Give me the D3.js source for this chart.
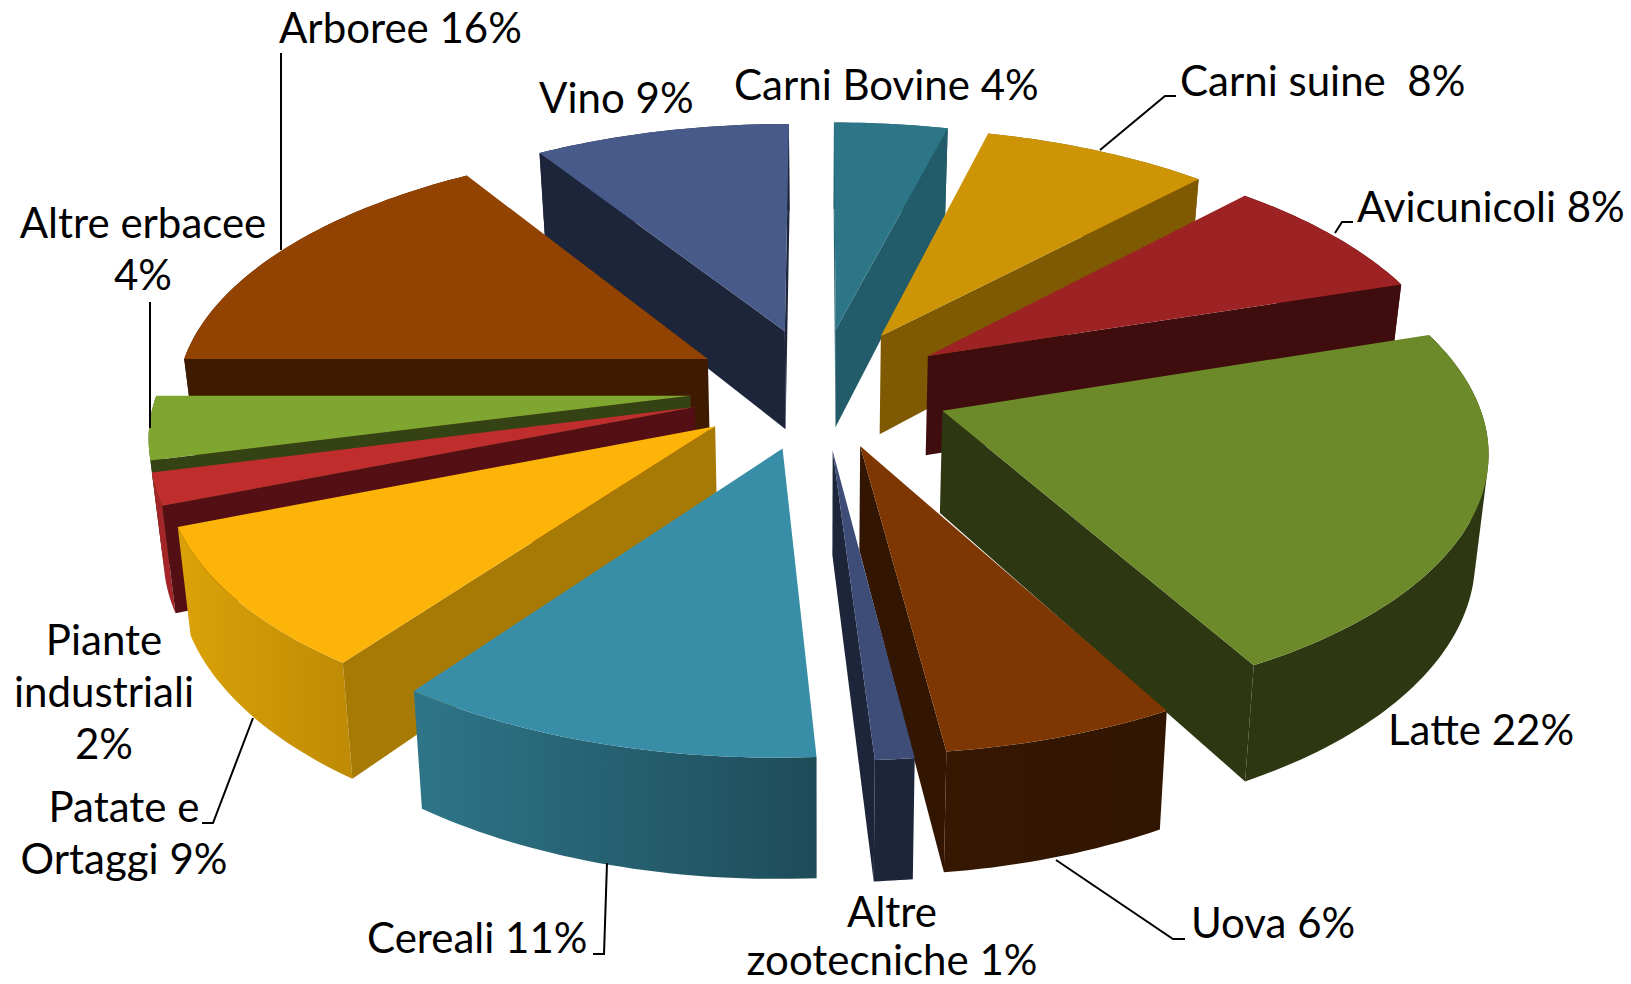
<!DOCTYPE html>
<html><head><meta charset="utf-8">
<style>html,body{margin:0;padding:0;background:#fff;overflow:hidden}svg{display:block}text{font-family:Lato,"Open Sans",sans-serif;fill:#000}</style>
<script src="https://cdn.jsdelivr.net/npm/d3@7/dist/d3.min.js"></script>
</head><body><svg id="c" width="1631" height="984"></svg>
<script>
// data
const categories=["Carni Bovine","Carni suine","Avicunicoli","Latte","Uova","Altre zootecniche","Cereali","Patate e Ortaggi","Piante industriali","Altre erbacee","Arboree","Vino"];
const shares=[4,8,8,22,6,1,11,9,2,4,16,9];
// layout and styles, one per slice
const explode=[130,130,130,130,126,130,130,130,130,130,130,130];
const topColors=["#2c7687","#cd9505","#9c2224","#6c8a29","#7e3702","#3e4d78","#388ea7","#fdb408","#bf2d2d","#80a632","#924201","#475a8a"];
const cutColors=["#225c6a","#7f5a02","#400d0e","#2d3711","#331602","#1c2539","#2a6b7d","#a67a04","#530f13","#344214","#3e1b00","#1c2539"];
const wallFrom=["#225c6a","#7f5a02","#400d0e","#2d3711","#361702","#1c2539","#2e7588","#dba208","#a32528","#344214","#3e1b00","#1c2539"];
const wallTo=["#225c6a","#7f5a02","#400d0e","#2d3711","#311602","#1c2539","#1e4c59","#c08c05","#a32528","#344214","#3e1b00","#1c2539"];
// label text + layout
const labelRows=[
 {l:["Arboree 16%"],x:279,y:[43],a:"start"},
 {l:["Vino 9%"],x:539,y:[113],a:"start"},
 {l:["Carni Bovine 4%"],x:734,y:[100],a:"start"},
 {l:["Carni suine  8%"],x:1180,y:[96],a:"start"},
 {l:["Avicunicoli 8%"],x:1357,y:[222],a:"start"},
 {l:["Latte 22%"],x:1388,y:[745],a:"start"},
 {l:["Uova 6%"],x:1191,y:[938],a:"start"},
 {l:["Altre","zootecniche 1%"],x:892,y:[927,975],a:"middle"},
 {l:["Cereali 11%"],x:367,y:[953],a:"start"},
 {l:["Patate e","Ortaggi 9%"],x:124,y:[822,874],a:"middle"},
 {l:["Piante","industriali","2%"],x:104,y:[655,707,759],a:"middle"},
 {l:["Altre erbacee","4%"],x:143,y:[238,290],a:"middle"}
];
const leaders=[
 [[1100,150],[1165,96],[1176,96]],
 [[1335,233],[1342,222],[1353,222]],
 [[281,250],[281,53]],
 [[150,428],[150,302]],
 [[253,718],[213,823],[202,823]],
 [[607,863],[604,954],[593,954]],
 [[1056,860],[1173,939],[1185,939]]
];
const CX=820,CY=388,R=532,K=0.135,SQ=0.469,T=101,SHRINK=0.02,FONT=42;
const svg=d3.select("#c");
const defs=svg.append("defs");
const arcs=d3.pie().sort(null)(shares);
const sx=d3.scaleLinear().domain([-1,1]).range([-R,R]);
function proj(a,r,mid,z,e){
  const X=e*Math.sin(mid)+sx(r)*Math.sin(a), Y=e*Math.cos(mid)+sx(r)*Math.cos(a);
  const w=1/(1+K*Y/R);
  return [CX+X*w*(1-z*SHRINK), CY-SQ*Y*w+z*T*w];
}
const line=d3.line();
const area2=p=>{let s=0;p.forEach((q,i)=>{const n=p[(i+1)%p.length];s+=q[0]*n[1]-n[0]*q[1]});return s/2};
const order=arcs.map((d,i)=>i).sort((a,b)=>Math.cos((arcs[b].startAngle+arcs[b].endAngle)/2)-Math.cos((arcs[a].startAngle+arcs[a].endAngle)/2));
const g=svg.append("g");
order.forEach(i=>{
  const d=arcs[i],mid=(d.startAngle+d.endAngle)/2,n=Math.max(6,Math.ceil((d.endAngle-d.startAngle)/0.02)),e=explode[i];
  const angs=d3.range(n+1).map(k=>d.startAngle+(d.endAngle-d.startAngle)*k/n);
  const topArc=angs.map(a=>proj(a,1,mid,0,e)),botArc=angs.map(a=>proj(a,1,mid,1,e));
  const ap0=proj(0,0,mid,0,e),ap1=proj(0,0,mid,1,e);
  const s=g.append("g").attr("class","slice").attr("data-name",categories[i]);
  // outer wall: all quads in one path with one winding, so the fill has no seams
  const xs=d3.extent(topArc,p=>p[0]);
  defs.append("linearGradient").attr("id","w"+i).attr("gradientUnits","userSpaceOnUse")
    .attr("x1",xs[0]).attr("x2",xs[1]).attr("y1",0).attr("y2",0)
    .call(l=>{l.append("stop").attr("offset",0).attr("stop-color",wallFrom[i]);l.append("stop").attr("offset",1).attr("stop-color",wallTo[i]);});
  const wall=d3.range(n).map(k=>{
    const q=[topArc[k],topArc[k+1],botArc[k+1],botArc[k]];
    if(area2(q)<0) q.reverse();
    return line(q)+"Z";
  }).join("");
  s.append("path").attr("d",wall).attr("fill",`url(#w${i})`).attr("fill-rule","nonzero");
  // cut faces (front-facing only)
  [[topArc[0],botArc[0],1],[topArc[n],botArc[n],-1]].forEach(([t,b,sg])=>{
    const q=[ap0,t,b,ap1];
    if(area2(q)*sg<0) s.append("path").attr("d",line(q)+"Z").attr("fill",cutColors[i]);
  });
  s.append("path").attr("d",line([ap0].concat(topArc))+"Z").attr("fill",topColors[i]);
});
// leaders
svg.append("g").selectAll("path").data(leaders).join("path").attr("d",d=>line(d)).attr("fill","none").attr("stroke","#000").attr("stroke-width",2);
// labels
labelRows.forEach(r=>{
  r.l.forEach((t,j)=>svg.append("text").attr("x",r.x).attr("y",r.y[j]).attr("text-anchor",r.a).attr("font-size",FONT).style("white-space","pre").text(t));
});
</script></body></html>
